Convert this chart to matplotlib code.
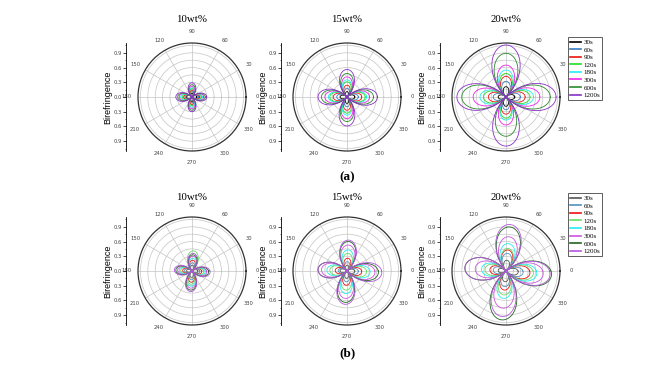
import numpy as np
import matplotlib
matplotlib.use('Agg')
import matplotlib.pyplot as plt
from matplotlib.ticker import MultipleLocator

# legend labels (annealing time)
times = ['30s', '60s', '90s', '120s', '180s', '300s', '600s', '1200s']
colors_a = ['black', '#3a7cc0', '#ee1111', '#22dd22', '#22eeee', '#ee22ee', '#2a8a2a', '#8a2ec8']
colors_b = ['#555555', '#5090c0', '#ee1111', '#66dd66', '#22eeee', '#cc55dd', '#1f661f', '#b455dd']

titles = ['10wt%', '15wt%', '20wt%']
angles = list(range(0, 360, 30))

# lobe length (birefringence) in the 0, 90, 180, 270 degree directions, per time
# row (a)
a10_r = [0.10, 0.13, 0.16, 0.19, 0.21, 0.24, 0.27, 0.30]
a10_u = [0.08, 0.11, 0.14, 0.17, 0.19, 0.22, 0.25, 0.29]
a10_l = [0.11, 0.14, 0.17, 0.20, 0.23, 0.26, 0.29, 0.33]
a10_d = [0.09, 0.12, 0.15, 0.18, 0.21, 0.24, 0.27, 0.30]

a15_r = [0.16, 0.23, 0.30, 0.37, 0.40, 0.46, 0.54, 0.62]
a15_u = [0.11, 0.18, 0.24, 0.31, 0.35, 0.41, 0.48, 0.56]
a15_l = [0.14, 0.21, 0.28, 0.35, 0.38, 0.45, 0.52, 0.59]
a15_d = [0.13, 0.20, 0.27, 0.33, 0.37, 0.44, 0.50, 0.59]

a20_r = [0.18, 0.29, 0.39, 0.49, 0.56, 0.69, 0.90, 1.02]
a20_u = [0.21, 0.32, 0.42, 0.48, 0.55, 0.65, 0.89, 1.06]
a20_l = [0.16, 0.26, 0.36, 0.46, 0.53, 0.67, 0.90, 1.00]
a20_d = [0.19, 0.26, 0.35, 0.43, 0.47, 0.57, 0.80, 1.00]

# row (b)
b10_r = [0.12, 0.16, 0.20, 0.24, 0.27, 0.30, 0.34, 0.37]
b10_u = [0.12, 0.17, 0.22, 0.41, 0.26, 0.30, 0.33, 0.36]
b10_l = [0.11, 0.15, 0.19, 0.23, 0.26, 0.29, 0.33, 0.36]
b10_d = [0.13, 0.18, 0.23, 0.27, 0.31, 0.35, 0.39, 0.42]

b15_r = [0.16, 0.23, 0.30, 0.40, 0.47, 0.57, 0.64, 0.71]
b15_u = [0.12, 0.19, 0.26, 0.36, 0.43, 0.53, 0.60, 0.63]
b15_l = [0.14, 0.18, 0.24, 0.35, 0.41, 0.52, 0.59, 0.59]
b15_d = [0.15, 0.22, 0.29, 0.39, 0.46, 0.56, 0.64, 0.68]

b20_r = [0.25, 0.35, 0.49, 0.56, 0.63, 0.76, 0.93, 0.90]
b20_u = [0.22, 0.36, 0.43, 0.46, 0.56, 0.70, 0.90, 0.95]
b20_l = [0.16, 0.26, 0.33, 0.43, 0.50, 0.63, 0.84, 0.84]
b20_d = [0.22, 0.32, 0.39, 0.49, 0.56, 0.76, 1.00, 0.93]

rows = [
    ([(a10_r, a10_u, a10_l, a10_d), (a15_r, a15_u, a15_l, a15_d), (a20_r, a20_u, a20_l, a20_d)], colors_a, [0, 0, 0]),
    ([(b10_r, b10_u, b10_l, b10_d), (b15_r, b15_u, b15_l, b15_d), (b20_r, b20_u, b20_l, b20_d)], colors_b, [-4, -3, -5]),
]

W, H = 661, 372
fig = plt.figure(figsize=(W / 100, H / 100), dpi=100)

centers_x = [192, 347, 506]
centers_y = [97, 271]
R = 54
RMAX = 1.1

theta = np.linspace(0, 2 * np.pi, 1441)


def petals(amps, tilt_deg):
    # four-leaf curve: inside each 90 deg sector r = A*cos(2*phi)
    t = theta - np.deg2rad(tilt_deg)
    k = np.round(t / (np.pi / 2)).astype(int) % 4
    phi = t - np.round(t / (np.pi / 2)) * (np.pi / 2)
    A = np.array(amps)[k]
    return np.clip(A * np.cos(2 * phi), 0, None)


for ri, (panels, cols, tilts) in enumerate(rows):
    cy = H - centers_y[ri]
    for pi, cx in enumerate(centers_x):
        ax = fig.add_axes([(cx - R) / W, (cy - R) / H, 2 * R / W, 2 * R / H], projection='polar')
        ax.set_ylim(0, RMAX)
        ax.set_rgrids(np.arange(0.15, 1.06, 0.15), labels=[])
        ax.set_thetagrids(angles, labels=[str(a) for a in angles], fontsize=3.8, color='#444444')
        ax.tick_params(axis='x', pad=-2)
        ax.grid(color='#c4c4c4', lw=0.5)
        ax.spines['polar'].set_color('#333333')
        ax.spines['polar'].set_linewidth(0.9)
        r_, u_, l_, d_ = panels[pi]
        for i in range(len(times)):
            amps = [r_[i], u_[i], l_[i], d_[i]]
            ax.plot(theta, petals(amps, tilts[pi]), color=cols[i], lw=0.6, label=times[i])

        # radial scale drawn as a separate vertical axis on the left
        sx = cx - R - 12
        sa = fig.add_axes([sx / W, (cy - R) / H, 0.0001, 2 * R / H])
        sa.set_ylim(-RMAX, RMAX)
        ticks = [-0.9, -0.6, -0.3, 0.0, 0.3, 0.6, 0.9]
        sa.set_yticks(ticks)
        sa.set_yticklabels(['%.1f' % abs(t) for t in ticks], fontsize=3.8, color='#444444')
        sa.yaxis.set_minor_locator(MultipleLocator(0.15))
        sa.tick_params(axis='y', which='major', length=2, width=0.5, pad=1)
        sa.tick_params(axis='y', which='minor', length=1, width=0.4)
        sa.set_xticks([])
        for s in ['top', 'right', 'bottom']:
            sa.spines[s].set_visible(False)
        sa.spines['left'].set_linewidth(0.6)
        sa.set_ylabel('Birefringence', fontsize=6.5, family='Liberation Sans', labelpad=1)

        fig.text(cx / W, 1 - (19 if ri == 0 else 197) / H, titles[pi], ha='center', va='center',
                 family='Liberation Serif', fontsize=7.8)

        if pi == 2:
            leg = ax.legend(loc='upper left', bbox_to_anchor=(568 / W, 1 - (37 if ri == 0 else 193) / H),
                            bbox_transform=fig.transFigure,
                            prop={'family': 'Liberation Serif', 'size': 5},
                            handlelength=1.5, handletextpad=0.4, labelspacing=0.25,
                            borderpad=0.3, borderaxespad=0, fancybox=False, edgecolor='#444444',
                            framealpha=1)
            leg.get_frame().set_linewidth(0.6)
            for line in leg.get_lines():
                line.set_linewidth(1.2)

fig.text(347 / W, 1 - 177 / H, '(a)', ha='center', va='center', family='Liberation Serif',
         fontsize=9.5, fontweight='bold')
fig.text(347 / W, 1 - 353 / H, '(b)', ha='center', va='center', family='Liberation Serif',
         fontsize=9.5, fontweight='bold')

fig.savefig('out.png', dpi=100)
